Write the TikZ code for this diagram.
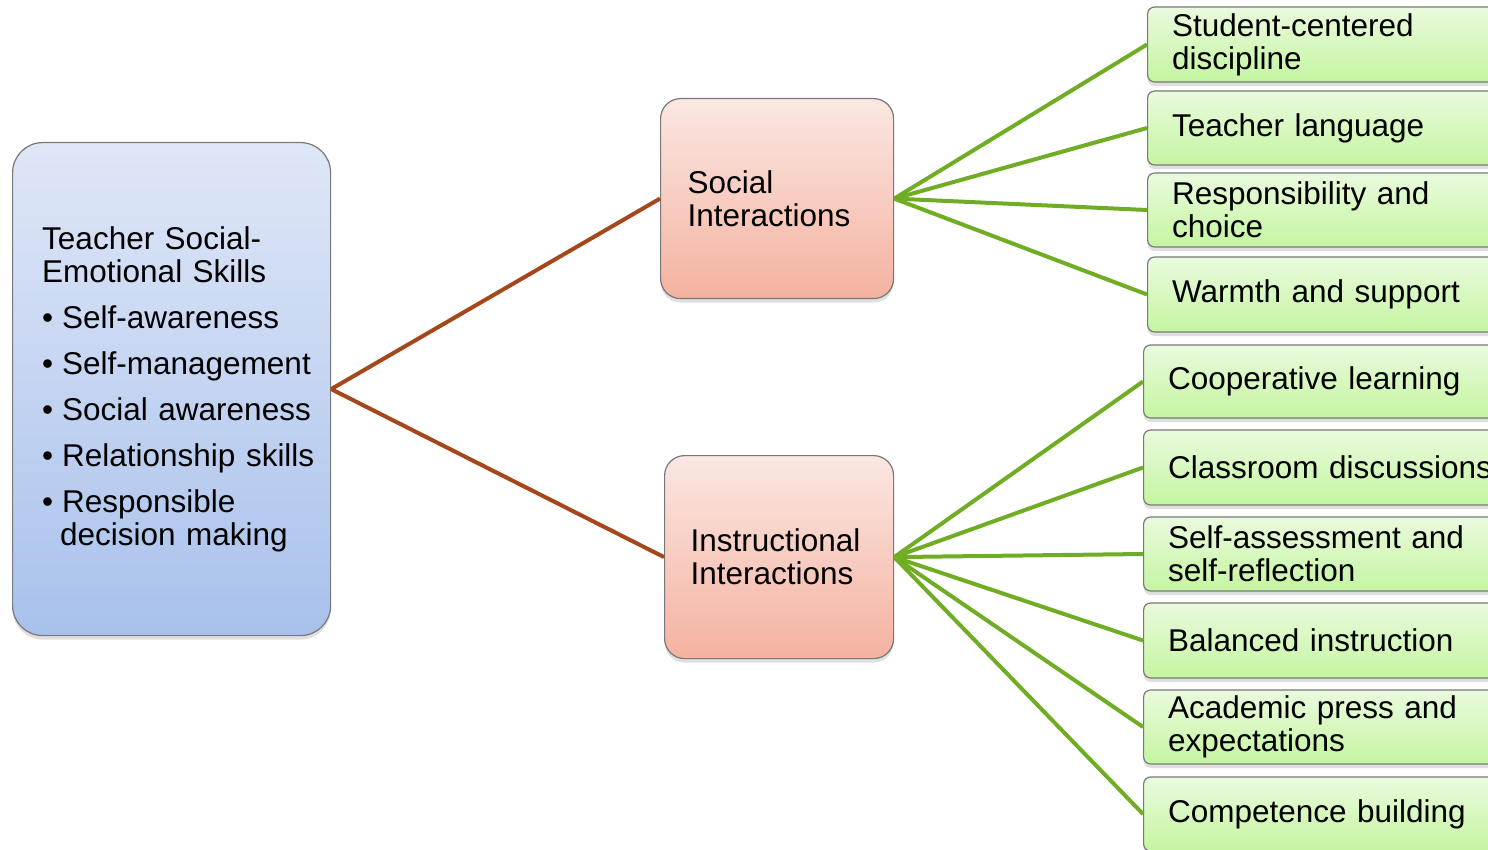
\documentclass[tikz,border=0pt]{standalone}
\usepackage{fontspec}
\setmainfont{Liberation Sans}
\usetikzlibrary{shadows}
\definecolor{brownline}{RGB}{165,70,27}
\definecolor{greenline}{RGB}{112,173,36}
\definecolor{bluetop}{RGB}{223,231,247}
\definecolor{bluebot}{RGB}{168,193,236}
\definecolor{pinktop}{RGB}{251,231,226}
\definecolor{pinkbot}{RGB}{244,178,160}
\definecolor{greentop}{RGB}{234,250,222}
\definecolor{greenbot}{RGB}{196,245,160}
\definecolor{boxborder}{RGB}{120,120,120}
\tikzset{
  basefont/.style={font=\fontsize{31.5}{33}\selectfont},
  softshadow/.style={drop shadow={opacity=0.25, shadow xshift=0pt, shadow yshift=-4pt}},
  bluebox/.style={draw=boxborder, line width=1.2pt, rounded corners=30pt, top color=bluetop, bottom color=bluebot, softshadow, anchor=north west, inner sep=0pt},
  pinkbox/.style={draw=boxborder, line width=1.2pt, rounded corners=20pt, top color=pinktop, bottom color=pinkbot, softshadow, anchor=north west, inner xsep=27pt, inner ysep=0pt, align=left, basefont},
  greenbox/.style={draw=boxborder, line width=1.2pt, rounded corners=7pt, top color=greentop, bottom color=greenbot, softshadow, anchor=west, inner xsep=24.5pt, inner ysep=0pt, text width=360pt, align=left, basefont},
  brownconn/.style={draw=brownline, line width=4pt},
  greenconn/.style={draw=greenline, line width=4pt},
  bodytext/.style={anchor=west, inner sep=0pt, text width=285pt, align=left, basefont},
}
\begin{document}
\begin{tikzpicture}[x=1pt, y=-1pt]
\useasboundingbox (0,0) rectangle (1488,850);
\clip (0,0) rectangle (1488,850);
% left box
\node[bluebox, minimum width=318pt, minimum height=493pt] (L) at (12,142) {};
\node[bodytext] (Ltext) at (42,389.5) {Teacher Social-\\Emotional Skills\\[13.5pt]
\makebox[20pt][l]{•}Self-awareness\\[13pt]
\makebox[20pt][l]{•}Self-management\\[13pt]
\makebox[20pt][l]{•}Social awareness\\[13pt]
\makebox[20pt][l]{•}Relationship skills\\[13pt]
\makebox[20pt][l]{•}Responsible\\
\hspace*{18pt}decision making};
% middle boxes
\node[pinkbox, text width=179pt, minimum width=233pt, minimum height=200pt] (S) at (660,98) {Social\\Interactions};
\node[pinkbox, inner xsep=26pt, text width=177pt, minimum width=229pt, minimum height=203pt] (I) at (664,455) {Instructional\\Interactions};
% right boxes
\node[greenbox, minimum height=75pt] (g1) at (1147,44.5) {Student-centered\\discipline};
\node[greenbox, minimum height=74pt] (g2) at (1147,128) {Teacher language};
\node[greenbox, minimum height=74pt] (g3) at (1147,210) {Responsibility and\\choice};
\node[greenbox, minimum height=75pt] (g4) at (1147,294.5) {Warmth and support};
\node[greenbox, minimum height=73pt] (g5) at (1143,381.5) {Cooperative learning};
\node[greenbox, minimum height=75pt] (g6) at (1143,467.5) {Classroom discussions};
\node[greenbox, minimum height=74pt] (g7) at (1143,554) {Self-assessment and\\self-reflection};
\node[greenbox, minimum height=75pt] (g8) at (1143,640.5) {Balanced instruction};
\node[greenbox, minimum height=74pt] (g9) at (1143,727) {Academic press and\\expectations};
\node[greenbox, minimum height=74pt] (g10) at (1143,814) {Competence building};
% connectors
\draw[brownconn] (L.east) -- (S.west);
\draw[brownconn] (L.east) -- (I.west);
\foreach \g in {g1,g2,g3,g4} \draw[greenconn] (S.east) -- (\g.west);
\foreach \g in {g5,g6,g7,g8,g9,g10} \draw[greenconn] (I.east) -- (\g.west);
\end{tikzpicture}
\end{document}
